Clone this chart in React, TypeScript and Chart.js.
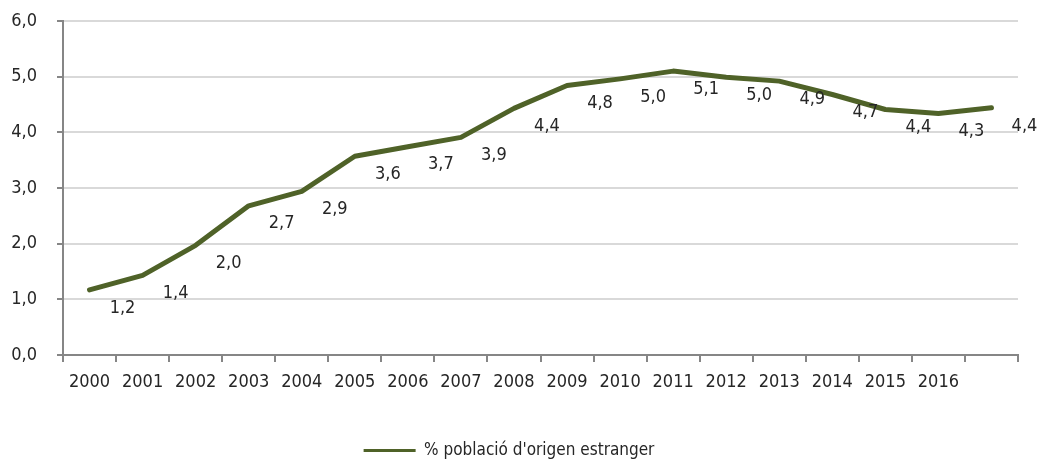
import React, { useEffect, useRef } from 'react';
import { Chart, registerables } from 'chart.js';

Chart.register(...registerables);

const years = ['2000', '2001', '2002', '2003', '2004', '2005', '2006', '2007', '2008', '2009', '2010', '2011', '2012', '2013', '2014', '2015', '2016', ''];
const share = [1.17, 1.43, 1.97, 2.68, 2.94, 3.57, 3.74, 3.91, 4.43, 4.84, 4.96, 5.1, 4.99, 4.92, 4.68, 4.41, 4.34, 4.44];
const seriesLabel = "% població d'origen estranger";
const yMin = 0;
const yMax = 6;
const yStep = 1;

const FONT = '"Liberation Sans Narrow", "Arial Narrow", "DejaVu Sans Condensed", sans-serif';
const TEXT = '#262626';
const LINE = '#4F6228';
const AXIS = '#868686';
const GRID = '#D9D9D9';

const fmt = (v: number) => v.toFixed(1).replace('.', ',');

const valueLabels = {
  id: 'valueLabels',
  afterDatasetsDraw(chart: any) {
    const ctx = chart.ctx;
    const meta = chart.getDatasetMeta(0);
    const data = chart.data.datasets[0].data as number[];
    ctx.save();
    ctx.font = `18px ${FONT}`;
    ctx.fillStyle = TEXT;
    ctx.textAlign = 'center';
    ctx.textBaseline = 'middle';
    meta.data.forEach((pt: any, i: number) => {
      ctx.fillText(fmt(data[i]), pt.x + 33, pt.y + 18);
    });
    ctx.restore();
  },
};

export default function App() {
  const ref = useRef<HTMLCanvasElement>(null);

  useEffect(() => {
    if (!ref.current) return;
    const chart = new Chart(ref.current, {
      type: 'line',
      data: {
        labels: years,
        datasets: [
          {
            label: seriesLabel,
            data: share,
            borderColor: LINE,
            backgroundColor: LINE,
            borderWidth: 5,
            pointRadius: 0,
            tension: 0,
            borderCapStyle: 'round',
            borderJoinStyle: 'round',
          },
        ],
      },
      options: {
        animation: false,
        responsive: false,
        layout: { padding: { left: 0, right: 22, top: 21, bottom: -8 } },
        plugins: {
          tooltip: { enabled: false },
          legend: {
            position: 'bottom',
            labels: {
              boxWidth: 52,
              boxHeight: 3,
              padding: 10,
              color: TEXT,
              font: { family: FONT, size: 17 },
              generateLabels: (chart: any) =>
                Chart.defaults.plugins.legend.labels.generateLabels(chart).map((l: any) => ({
                  ...l,
                  lineWidth: 0,
                  strokeStyle: 'transparent',
                })),
            },
          },
        },
        scales: {
          x: {
            offset: true,
            grid: {
              offset: true,
              drawOnChartArea: false,
              tickColor: AXIS,
              tickLength: 7,
              lineWidth: 2,
            },
            border: { color: AXIS, width: 2 },
            ticks: {
              color: TEXT,
              font: { family: FONT, size: 18 },
              padding: 10,
              maxRotation: 0,
              autoSkip: false,
            },
            afterFit: (scale: any) => {
              scale.height = 77;
            },
          },
          y: {
            min: yMin,
            max: yMax,
            ticks: {
              stepSize: yStep,
              color: TEXT,
              font: { family: FONT, size: 18 },
              padding: 20,
              callback: (v: any) => fmt(Number(v)),
            },
            grid: {
              color: GRID,
              lineWidth: 2,
              tickColor: AXIS,
              tickLength: 6,
            },
            border: { color: AXIS, width: 2 },
            afterFit: (scale: any) => {
              scale.width = 63;
              scale.paddingTop = 0;
              scale.paddingBottom = 0;
            },
          },
        },
      },
      plugins: [valueLabels],
    });
    return () => chart.destroy();
  }, []);

  return (
    <div style={{ position: 'absolute', left: 0, top: 0, width: 1040, height: 461, background: '#fff' }}>
      <canvas ref={ref} width={1040} height={461} style={{ display: 'block' }} />
    </div>
  );
}
